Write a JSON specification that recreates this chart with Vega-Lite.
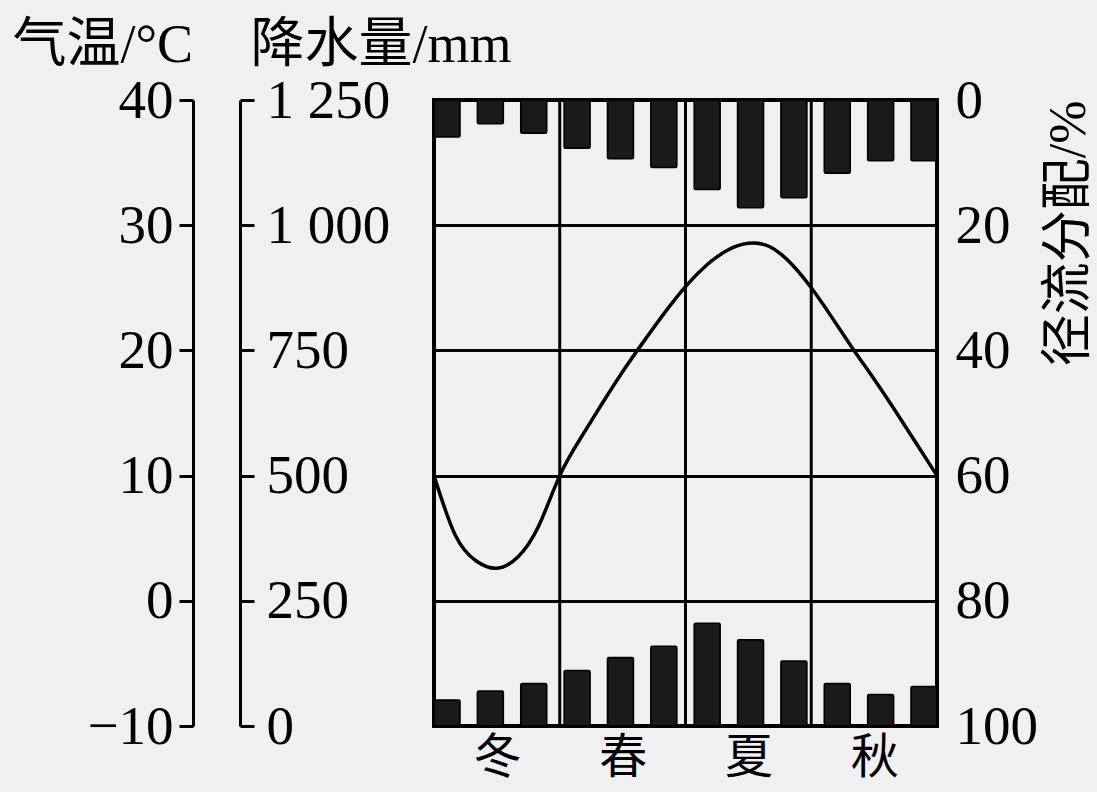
{
  "$schema": "https://vega.github.io/schema/vega-lite/v6.json",
  "width": 503,
  "height": 626,
  "autosize": {"type": "none"},
  "padding": {"left": 434, "top": 100, "right": 160, "bottom": 66},
  "background": "#f0f0f0",
  "config": {
    "view": {"stroke": "#000", "strokeWidth": 4},
    "font": "Liberation Serif, Noto Sans CJK SC",
    "axis": {
      "labelColor": "#000",
      "titleColor": "#000",
      "domainColor": "#000",
      "tickColor": "#000",
      "titleFontWeight": "normal",
      "labelFlush": false,
      "labelOverlap": false,
      "labelBound": false
    }
  },
  "datasets": {
    "months": [
      {"month": "12月", "precip": 52, "runoff": 5.9},
      {"month": "1月", "precip": 70, "runoff": 3.8},
      {"month": "2月", "precip": 85, "runoff": 5.3},
      {"month": "3月", "precip": 111, "runoff": 7.7},
      {"month": "4月", "precip": 137, "runoff": 9.4},
      {"month": "5月", "precip": 159, "runoff": 10.8},
      {"month": "6月", "precip": 205, "runoff": 14.3},
      {"month": "7月", "precip": 172, "runoff": 17.2},
      {"month": "8月", "precip": 130, "runoff": 15.6},
      {"month": "9月", "precip": 85, "runoff": 11.7},
      {"month": "10月", "precip": 63, "runoff": 9.7},
      {"month": "11月", "precip": 79, "runoff": 9.7}
    ],
    "temperature": [
      {"t": 0, "temp": 10},
      {"t": 0.5, "temp": 5.3},
      {"t": 1, "temp": 3.2},
      {"t": 1.5, "temp": 2.6},
      {"t": 2, "temp": 3.5},
      {"t": 2.5, "temp": 6.0},
      {"t": 3, "temp": 10},
      {"t": 3.5, "temp": 13.0},
      {"t": 4, "temp": 15.7},
      {"t": 4.5, "temp": 18.3},
      {"t": 5, "temp": 20.7},
      {"t": 5.5, "temp": 23.0},
      {"t": 6, "temp": 25.1},
      {"t": 6.5, "temp": 26.8},
      {"t": 7, "temp": 28.0},
      {"t": 7.5, "temp": 28.55},
      {"t": 8, "temp": 28.3},
      {"t": 8.5, "temp": 27.0},
      {"t": 9, "temp": 25.0},
      {"t": 9.5, "temp": 22.6},
      {"t": 10, "temp": 20.1},
      {"t": 10.5, "temp": 17.7},
      {"t": 11, "temp": 15.2},
      {"t": 11.5, "temp": 12.6},
      {"t": 12, "temp": 10}
    ],
    "seasons": [
      {"b": 3},
      {"b": 6},
      {"b": 9}
    ]
  },
  "layer": [
    {
      "data": {"name": "seasons"},
      "mark": {"type": "rule", "color": "#000", "strokeWidth": 3},
      "encoding": {
        "x": {"field": "b", "type": "quantitative", "scale": {"domain": [0, 12], "nice": false, "zero": false}, "axis": null}
      }
    },
    {
      "data": {"name": "months"},
      "mark": {"type": "bar", "color": "#1a1a1a", "stroke": "#000", "strokeWidth": 1.5, "cornerRadius": 1.5},
      "encoding": {
        "x": {"field": "month", "type": "ordinal", "sort": null, "scale": {"type": "band", "paddingInner": 0.4, "paddingOuter": 0}, "axis": null},
        "y": {
          "field": "precip", "type": "quantitative",
          "scale": {"domain": [0, 1250], "nice": false},
          "axis": {
            "orient": "right", "offset": -697,
            "values": [0, 250, 500, 750, 1000, 1250],
            "labelExpr": "replace(format(datum.value, ','), ',', ' ')",
            "grid": false,
            "domainWidth": 3, "tickWidth": 3, "tickSize": 14,
            "labelFontSize": 55, "labelPadding": 12, "labelAlign": "left", "labelBaseline": "middle",
            "title": "降水量/mm", "titleFontSize": 54, "titleAngle": 0, "titleAlign": "left",
            "titleBaseline": "alphabetic", "titleX": 10, "titleY": -39
          }
        }
      }
    },
    {
      "data": {"name": "months"},
      "mark": {"type": "bar", "color": "#1a1a1a", "stroke": "#000", "strokeWidth": 1.5, "cornerRadius": 1.5},
      "encoding": {
        "x": {"field": "month", "type": "ordinal", "sort": null, "scale": {"type": "band", "paddingInner": 0.4, "paddingOuter": 0}, "axis": null},
        "y": {
          "field": "runoff", "type": "quantitative",
          "scale": {"domain": [0, 100], "nice": false, "reverse": true},
          "axis": {
            "orient": "right", "offset": 0,
            "values": [0, 20, 40, 60, 80, 100],
            "grid": false, "domain": false, "ticks": false,
            "labelFontSize": 55, "labelPadding": 18, "labelAlign": "left", "labelBaseline": "middle",
            "title": "径流分配/%", "titleFontSize": 52, "titleAngle": 270, "titleAlign": "right",
            "titleBaseline": "middle", "titleX": 131, "titleY": 0
          }
        }
      }
    },
    {
      "data": {"name": "temperature"},
      "mark": {"type": "line", "color": "#000", "strokeWidth": 3.5, "interpolate": "natural"},
      "encoding": {
        "x": {
          "field": "t", "type": "quantitative",
          "scale": {"domain": [0, 12], "nice": false, "zero": false},
          "axis": {
            "orient": "bottom",
            "values": [1.5, 4.5, 7.5, 10.5],
            "labelExpr": "['冬', '春', '夏', '秋'][floor(datum.value / 3)]",
            "grid": false, "domain": false, "ticks": false,
            "labelFontSize": 48, "labelPadding": 8, "labelFont": "Noto Sans CJK SC",
            "title": null
          }
        },
        "y": {
          "field": "temp", "type": "quantitative",
          "scale": {"domain": [-10, 40], "nice": false, "zero": false},
          "axis": {
            "orient": "left", "offset": 241,
            "values": [-10, 0, 10, 20, 30, 40],
            "grid": true, "gridColor": "#000", "gridWidth": 3, "gridOpacity": 1,
            "domainWidth": 3, "tickWidth": 3, "tickSize": 14,
            "labelFontSize": 55, "labelPadding": 6, "labelAlign": "right", "labelBaseline": "middle",
            "title": "气温/°C", "titleFontSize": 54, "titleAngle": 0, "titleAlign": "left",
            "titleBaseline": "alphabetic", "titleX": -181, "titleY": -39
          }
        }
      }
    }
  ],
  "resolve": {
    "scale": {"x": "independent", "y": "independent"},
    "axis": {"x": "independent", "y": "independent"}
  }
}
